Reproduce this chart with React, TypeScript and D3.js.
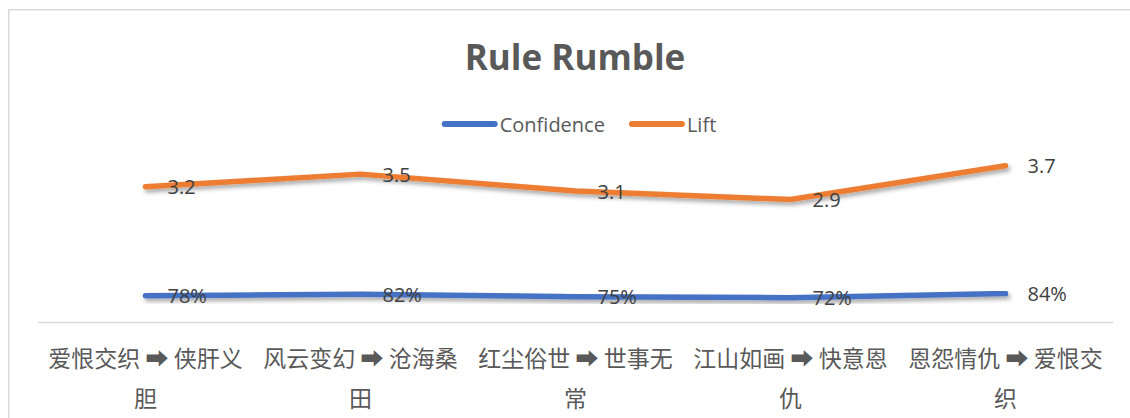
import * as d3 from 'd3';
import React, { useEffect, useRef } from 'react';

const categories = [
  '爱恨交织 ➡ 侠肝义胆',
  '风云变幻 ➡ 沧海桑田',
  '红尘俗世 ➡ 世事无常',
  '江山如画 ➡ 快意恩仇',
  '恩怨情仇 ➡ 爱恨交织',
];
const confidence = [0.78, 0.82, 0.75, 0.72, 0.84];
const lift = [3.2, 3.5, 3.1, 2.9, 3.7];
const seriesNames = ['Confidence', 'Lift'];
const seriesColors = ['#4472C4', '#ED7D31'];

const App = () => {
  const svgRef = useRef<SVGSVGElement>(null);

  useEffect(() => {
    const width = 1130;
    const height = 418;
    const plot = { left: 38, right: 1113, top: 153, bottom: 322 };
    const sansFont = "'Open Sans', 'Liberation Sans', sans-serif";
    const cjkFont = "'Noto Sans CJK SC', 'DejaVu Sans', sans-serif";

    const svg = d3.select(svgRef.current);
    svg.selectAll('*').remove();
    svg.attr('width', width).attr('height', height);

    // 그림자 필터
    const defs = svg.append('defs');
    const filter = defs
      .append('filter')
      .attr('id', 'lineShadow')
      .attr('x', '-10%')
      .attr('y', '-50%')
      .attr('width', '120%')
      .attr('height', '300%');
    filter
      .append('feDropShadow')
      .attr('dx', 2)
      .attr('dy', 3)
      .attr('stdDeviation', 2)
      .attr('flood-color', '#000')
      .attr('flood-opacity', 0.35);

    // 차트 영역 테두리
    svg
      .append('rect')
      .attr('x', 8.75)
      .attr('y', 9.75)
      .attr('width', width + 20)
      .attr('height', height + 20)
      .attr('fill', '#fff')
      .attr('stroke', '#d9d9d9')
      .attr('stroke-width', 1.5);

    // 제목
    svg
      .append('text')
      .attr('x', 575)
      .attr('y', 70)
      .attr('text-anchor', 'middle')
      .attr('font-family', sansFont)
      .attr('font-weight', 'bold')
      .attr('font-size', 35)
      .attr('fill', '#595959')
      .text('Rule Rumble');

    // 범례
    const legend = svg.append('g');
    let lx = 0;
    seriesNames.forEach((name, i) => {
      legend
        .append('line')
        .attr('x1', lx + 3)
        .attr('x2', lx + 53)
        .attr('y1', 124)
        .attr('y2', 124)
        .attr('stroke', seriesColors[i])
        .attr('stroke-width', 6)
        .attr('stroke-linecap', 'round');
      const t = legend
        .append('text')
        .attr('x', lx + 58)
        .attr('y', 124)
        .attr('dominant-baseline', 'central')
        .attr('font-family', sansFont)
        .attr('font-size', 20)
        .attr('fill', '#595959')
        .text(name);
      const w = (t.node() as SVGTextElement).getComputedTextLength();
      lx += 58 + w + 24;
    });
    const legendWidth = lx - 24;
    legend.attr('transform', `translate(${579 - legendWidth / 2}, 0)`);

    // 스케일
    const x = d3.scaleBand<string>().domain(categories).range([plot.left, plot.right]);
    const yConf = d3.scaleLinear().domain([0, 5]).range([plot.bottom, plot.top]);
    const yLift = d3.scaleLinear().domain([0, 4]).range([plot.bottom, plot.top]);
    const cx = (i: number) => (x(categories[i]) as number) + x.bandwidth() / 2;

    // x축
    svg
      .append('line')
      .attr('x1', plot.left)
      .attr('x2', plot.right)
      .attr('y1', plot.bottom + 0.5)
      .attr('y2', plot.bottom + 0.5)
      .attr('stroke', '#d9d9d9')
      .attr('stroke-width', 1.5);

    // 카테고리 라벨 (줄바꿈)
    const maxW = x.bandwidth() - 8;
    categories.forEach((cat, i) => {
      const g = svg.append('g');
      const lines: string[] = [];
      let cur = '';
      const probe = g
        .append('text')
        .attr('font-family', cjkFont)
        .attr('font-size', 23);
      for (const ch of Array.from(cat)) {
        probe.text(cur + ch);
        if ((probe.node() as SVGTextElement).getComputedTextLength() > maxW && cur) {
          lines.push(cur.trim());
          cur = ch;
        } else {
          cur += ch;
        }
      }
      if (cur.trim()) lines.push(cur.trim());
      probe.remove();
      lines.forEach((ln, k) => {
        g.append('text')
          .attr('x', cx(i))
          .attr('y', 357 + k * 40)
          .attr('text-anchor', 'middle')
          .attr('dominant-baseline', 'central')
          .attr('font-family', cjkFont)
          .attr('font-size', 23)
          .attr('fill', '#595959')
          .text(ln);
      });
    });

    // 라인
    const series = [
      { values: confidence, y: yConf, fmt: d3.format('.0%') },
      { values: lift, y: yLift, fmt: d3.format('.1f') },
    ];
    series.forEach((s, si) => {
      const line = d3
        .line<number>()
        .x((_, i) => cx(i))
        .y((d) => s.y(d));
      svg
        .append('path')
        .datum(s.values)
        .attr('d', line)
        .attr('fill', 'none')
        .attr('stroke', seriesColors[si])
        .attr('stroke-width', 5.5)
        .attr('stroke-linecap', 'round')
        .attr('stroke-linejoin', 'round')
        .attr('filter', 'url(#lineShadow)');
    });

    // 데이터 라벨
    series.forEach((s) => {
      svg
        .append('g')
        .selectAll('text')
        .data(s.values)
        .join('text')
        .attr('x', (_, i) => cx(i) + 22)
        .attr('y', (d) => s.y(d))
        .attr('dominant-baseline', 'central')
        .attr('font-family', sansFont)
        .attr('font-size', 20)
        .attr('fill', '#404040')
        .text((d) => s.fmt(d));
    });
  }, []);

  return <svg ref={svgRef} style={{ position: 'absolute', left: 0, top: 0 }} />;
};

export default App;
